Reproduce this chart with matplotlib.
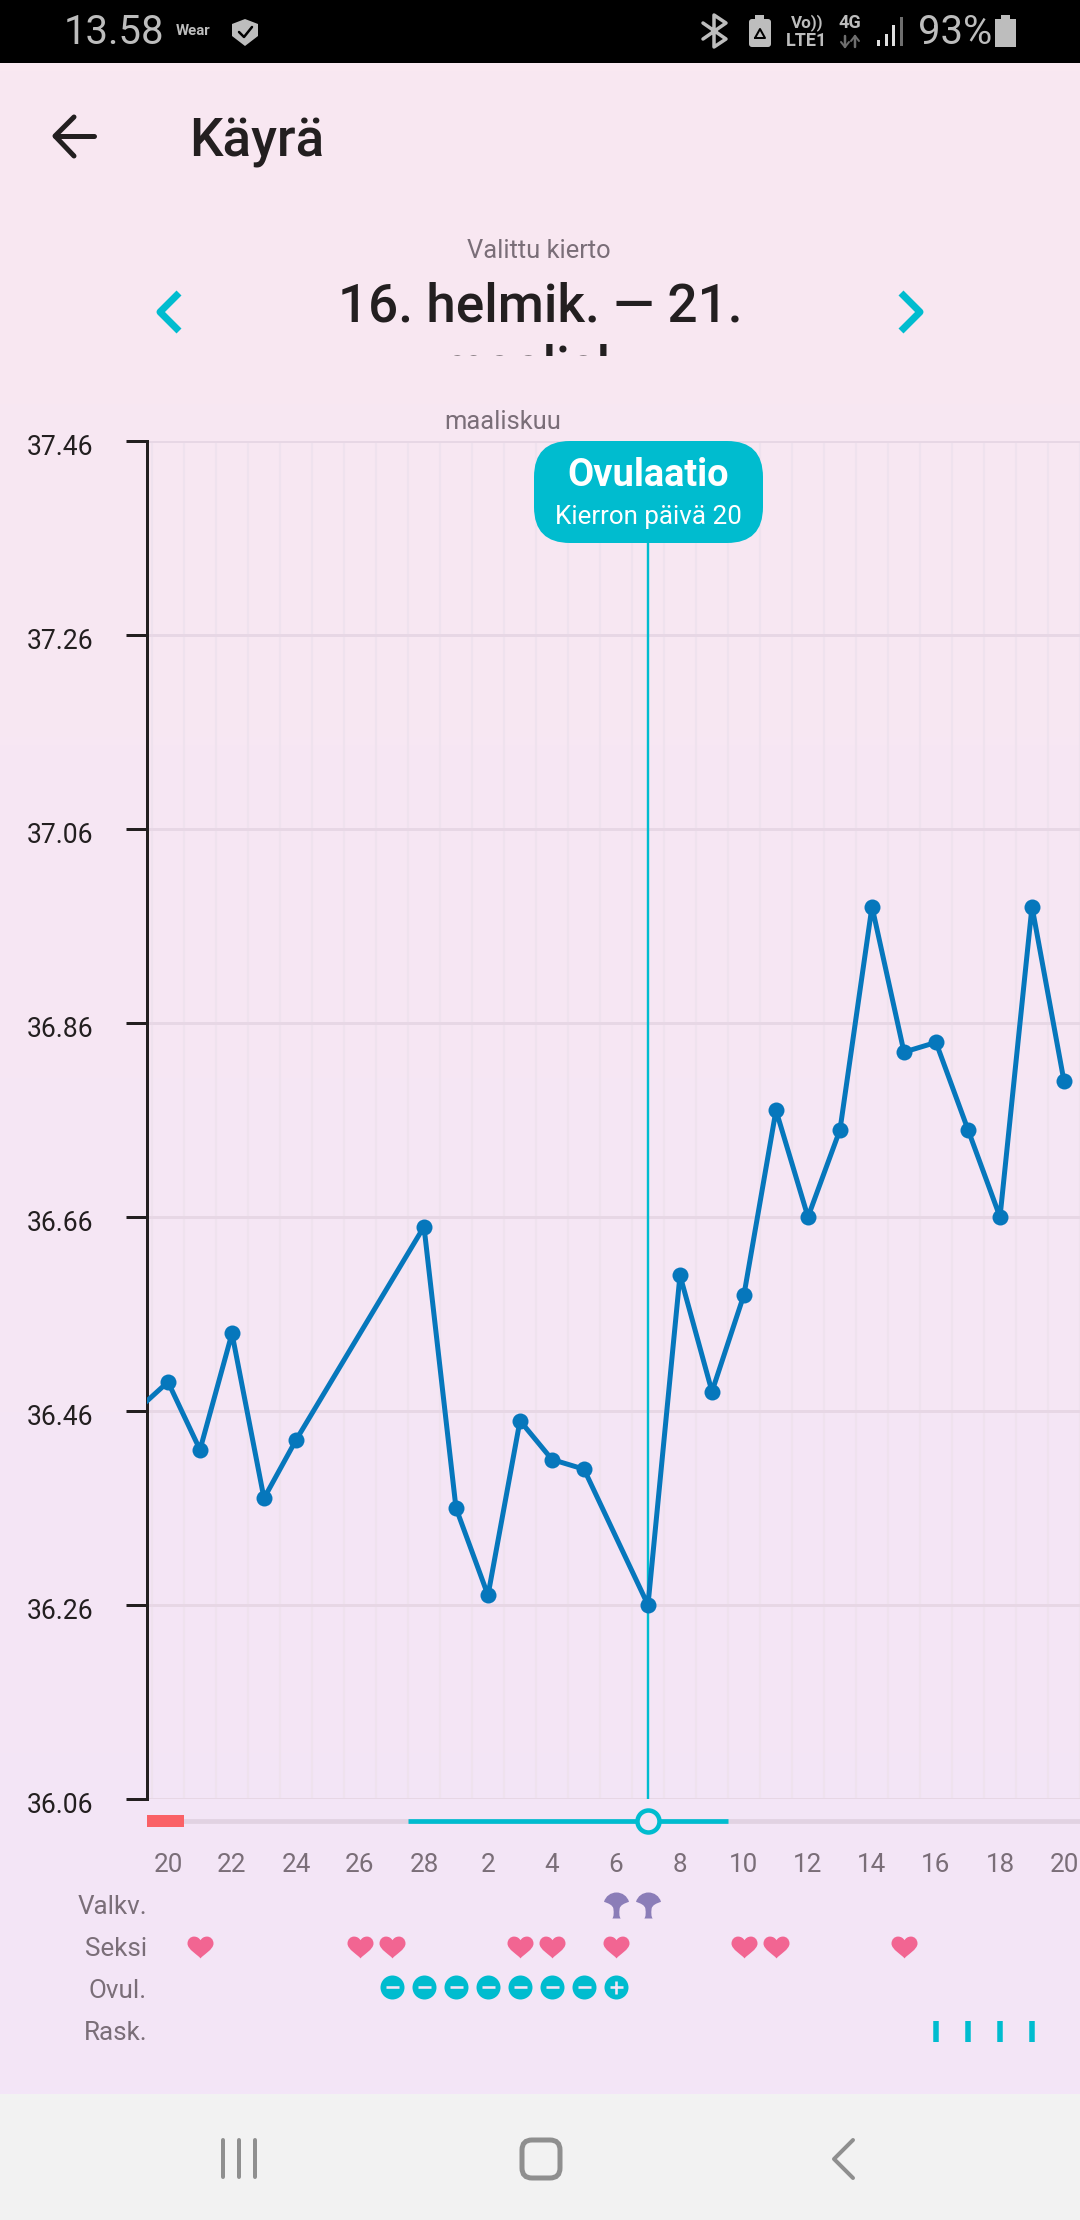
#!/usr/bin/env python

import numpy as np
import matplotlib
matplotlib.use('Agg')
import matplotlib.pyplot as plt
from matplotlib.colors import LinearSegmentedColormap
from matplotlib.patches import FancyBboxPatch, Rectangle, Polygon
from matplotlib.path import Path
from matplotlib.transforms import ScaledTranslation

plt.rcParams['font.family'] = ['Roboto', 'DejaVu Sans']

# day index 0 is the first "20" tick; index -1 is cut by the y axis
day_idx = [-1, 0, 1, 2, 3, 4, 8, 9, 10, 11, 12, 13, 15, 16, 17, 18, 19, 20, 21, 22, 23, 24, 25, 26, 27, 28]
temps = [36.46, 36.49, 36.42, 36.54, 36.37, 36.43, 36.65, 36.36, 36.27, 36.45, 36.41, 36.40, 36.26,
         36.60, 36.48, 36.58, 36.77, 36.66, 36.75, 36.98, 36.83, 36.84, 36.75, 36.66, 36.98, 36.80]
y_ticks = [36.06, 36.26, 36.46, 36.66, 36.86, 37.06, 37.26, 37.46]
x_tick_idx = [0, 2, 4, 6, 8, 10, 12, 14, 16, 18, 20, 22, 24, 26, 28]
x_tick_labels = ['20', '22', '24', '26', '28', '2', '4', '6', '8', '10', '12', '14', '16', '18', '20']

rows = ['Valkv.', 'Seksi', 'Ovul.', 'Rask.']
mucus_days = [14, 15]
sex_days = [1, 6, 7, 11, 12, 14, 18, 19, 23]
ovul_neg_days = [7, 8, 9, 10, 11, 12, 13]
ovul_pos_days = [14]
preg_days = [24, 25, 26, 27]

period_span = (-0.66, 0.5)
fertile_span = (7.5, 17.5)
ovulation_day = 15

W, H = 1080, 2220
INK = '#231F20'
GREY = '#7A6E78'
TEAL = '#00BCCF'
BLUE = '#0677BC'
NAV = '#8F8F8F'
STATUS = '#BDBDBD'


def px(v):
    # pixels to points
    return v * 0.72


def axes_px(left, top, right, bottom, **kw):
    return fig.add_axes([left / W, 1 - bottom / H, (right - left) / W, (bottom - top) / H], **kw)


fig = plt.figure(figsize=(W / 100, H / 100), dpi=100)

# page layer in pixel coordinates
bg = axes_px(0, 0, W, H)
bg.axis('off')
cmap = LinearSegmentedColormap.from_list('page', ['#F9E8F1', '#F3E5F7'])
bg.imshow(np.linspace(0, 1, 256).reshape(-1, 1), cmap=cmap, extent=(0, W, 2094, 63), aspect='auto')
bg.add_patch(Rectangle((0, 0), W, 63, color='black', lw=0))
bg.add_patch(Rectangle((0, 2094), W, H - 2094, color='#F2F2F2', lw=0))
bg.set_xlim(0, W)
bg.set_ylim(H, 0)


def txt(x, y, s, size, color=GREY, ha='center', va='center', weight='normal', **kw):
    return bg.text(x, y, s, fontsize=px(size), color=color, ha=ha, va=va, fontweight=weight, **kw)


def poly(xs, ys, color, lw, cap='round'):
    bg.plot(xs, ys, color=color, lw=px(lw), solid_capstyle=cap, solid_joinstyle='round')


# status bar
txt(64, 33, '13.58', 40, STATUS, ha='left')
txt(176, 31, 'Wear', 15, STATUS, ha='left', weight='bold')
bg.add_patch(Polygon([(232, 24), (245, 19), (258, 24), (258, 36), (245, 46), (232, 36)], color=STATUS, lw=0))
poly([239, 244, 252], [32, 37, 27], 'black', 2.5)
poly([703, 726, 714, 714, 726, 703], [23, 39, 47, 15, 23, 39], STATUS, 3.5)
bg.add_patch(FancyBboxPatch((749, 19), 22, 28, boxstyle='round,pad=0,rounding_size=3', color=STATUS, lw=0))
bg.add_patch(Rectangle((755, 15), 9, 5, color=STATUS, lw=0))
poly([755, 760, 765, 755], [38, 29, 38, 38], 'black', 2)
txt(807, 23, 'Vo))', 17, STATUS, weight='bold')
txt(807, 41, 'LTE1', 18, STATUS, weight='bold')
txt(850, 23, '4G', 18, STATUS, weight='bold')
poly([845, 845], [36, 47], '#6E6E6E', 2.5)
poly([841, 845, 849], [42, 47, 42], '#6E6E6E', 2)
poly([855, 855], [36, 47], '#6E6E6E', 2.5)
poly([851, 855, 859], [41, 36, 41], '#6E6E6E', 2)
for i, top_y in enumerate([40, 34, 25, 17]):
    bg.add_patch(Rectangle((877 + i * 7.5, top_y), 3, 46 - top_y, color='#E0E0E0' if i < 3 else '#6E6E6E', lw=0))
txt(918, 33, '93%', 40, STATUS, ha='left')
bg.add_patch(Rectangle((995, 19), 21, 28, color=STATUS, lw=0))
bg.add_patch(Rectangle((1001, 15), 9, 4, color=STATUS, lw=0))

# header
poly([55, 94], [136, 136], INK, 5)
poly([74, 55, 74], [117, 136, 156], INK, 5)
txt(189, 157, 'Käyrä', 53, INK, ha='left', va='baseline', weight='medium')
txt(539, 251, 'Valittu kierto', 25.5)
txt(540, 322, '16. helmik. — 21.', 53, INK, va='baseline', weight='medium')
cut = txt(540, 383, 'maalisk.', 53, INK, va='baseline', weight='medium')
cut.set_clip_path(Rectangle((0, 63), W, 293, transform=bg.transData))
cut.set_clip_on(True)
poly([179, 160, 179], [293, 312, 331], TEAL, 7, cap='butt')
poly([901, 920, 901], [293, 312, 331], TEAL, 7, cap='butt')
txt(503, 422, 'maaliskuu', 25.5)

# nav bar
for x in [223, 239, 255]:
    poly([x, x], [2140, 2177], NAV, 4)
bg.add_patch(FancyBboxPatch((522, 2140), 38, 38, boxstyle='round,pad=0,rounding_size=10', fc='none', ec=NAV, lw=px(5)))
poly([853, 834, 853], [2140, 2159, 2178], NAV, 4)

# temperature chart
ax = axes_px(147, 441, W, 1799)
ax.patch.set_alpha(0)
ax.set_xlim(-0.656, 28.5)
ax.set_ylim(36.06, 37.46)
ax.set_xticks(np.arange(-0.5, 28.6, 1), minor=True)
ax.grid(which='minor', axis='x', color='#EFE2EE', lw=px(2.2))
ax.set_yticks(y_ticks)
ax.set_yticklabels(['%.2f' % v for v in y_ticks])
ax.grid(which='major', axis='y', color='#E7D7E5', lw=px(3))
ax.set_axisbelow(True)
ax.set_xticks(x_tick_idx)
ax.set_xticklabels(x_tick_labels)
ax.tick_params(axis='x', which='both', length=0, pad=px(54), labelsize=px(26), labelcolor=GREY)
ax.tick_params(axis='y', length=px(21), width=px(3), color=INK, pad=px(33), labelsize=px(26.5), labelcolor=INK)
for label in ax.get_yticklabels():
    label.set_transform(label.get_transform() + ScaledTranslation(0, -px(3.5) / 72, fig.dpi_scale_trans))
for name in ['top', 'right', 'bottom']:
    ax.spines[name].set_visible(False)
ax.spines['left'].set_color(INK)
ax.spines['left'].set_linewidth(px(3))
ax.axvline(ovulation_day, color=TEAL, lw=px(2.4), zorder=2)
ax.plot(day_idx, temps, color=BLUE, lw=px(5), marker='o', ms=px(16), mew=0, zorder=3)

# cycle phase strip
bar = axes_px(147, 1815, W, 1827, sharex=ax)
bar.axis('off')
bar.set_ylim(0, 1)
bar.hlines(0.5, -0.66, 28.5, color='#E1D2E2', lw=px(4.7), zorder=1)
bar.hlines(0.5, fertile_span[0], fertile_span[1], color=TEAL, lw=px(4.7), zorder=2)
bar.axvspan(period_span[0], period_span[1], color='#FA6166', lw=0, zorder=3)
bar.plot([ovulation_day], [0.5], 'o', ms=px(22), mfc='#F4E5F6', mec=TEAL, mew=px(4.5), zorder=4, clip_on=False)

# symptom rows
heart = Path(
    [(0, -0.42), (-0.1, -0.28), (-0.5, -0.08), (-0.5, 0.15), (-0.5, 0.32), (-0.38, 0.42), (-0.25, 0.42),
     (-0.13, 0.42), (-0.05, 0.36), (0, 0.28), (0.05, 0.36), (0.13, 0.42), (0.25, 0.42),
     (0.38, 0.42), (0.5, 0.32), (0.5, 0.15), (0.5, -0.08), (0.1, -0.28), (0, -0.42)],
    [Path.MOVETO] + [Path.CURVE4] * 18)
funnel = Path(
    [(-0.16, -0.5), (-0.1, -0.42), (-0.1, -0.3), (-0.12, -0.12), (-0.15, 0.02), (-0.3, 0.08), (-0.48, 0.14),
     (-0.42, 0.36), (-0.22, 0.5), (0, 0.5), (0.22, 0.5), (0.42, 0.36), (0.48, 0.14),
     (0.3, 0.08), (0.15, 0.02), (0.12, -0.12), (0.1, -0.3), (0.1, -0.42), (0.16, -0.5), (-0.16, -0.5)],
    [Path.MOVETO] + [Path.CURVE4] * 18 + [Path.LINETO])

strip = axes_px(147, 1884, W, 2052, sharex=ax)
strip.patch.set_alpha(0)
strip.set_ylim(3.5, -0.5)
for name in strip.spines:
    strip.spines[name].set_visible(False)
strip.set_yticks(range(len(rows)))
strip.set_yticklabels(rows)
strip.tick_params(axis='y', length=0, pad=0, labelsize=px(26), labelcolor=GREY)
strip.tick_params(axis='x', which='both', length=0, labelbottom=False)
strip.plot(mucus_days, [0] * len(mucus_days), ls='none', marker=funnel, ms=px(26), mfc='#8B7DB8', mew=0)
strip.plot(sex_days, [1] * len(sex_days), ls='none', marker=heart, ms=px(26), mfc='#F26592', mew=0)
ovul_days = ovul_neg_days + ovul_pos_days
strip.plot(ovul_days, [1.96] * len(ovul_days), ls='none', marker='o', ms=px(24), mfc=TEAL, mew=0)
strip.plot(ovul_neg_days, [1.96] * len(ovul_neg_days), ls='none', marker='_', ms=px(13), mec='#F4E5F6', mew=px(2.6))
strip.plot(ovul_pos_days, [1.96] * len(ovul_pos_days), ls='none', marker='+', ms=px(13), mec='#F4E5F6', mew=px(2.6))
strip.plot(preg_days, [3] * len(preg_days), ls='none', marker='|', ms=px(21), mec=TEAL, mew=px(5.5))

# ovulation bubble on top of the chart
top = axes_px(0, 0, W, H)
top.axis('off')
top.set_xlim(0, W)
top.set_ylim(H, 0)
top.add_patch(FancyBboxPatch((534, 441), 229, 102, boxstyle='round,pad=0,rounding_size=36', fc=TEAL, ec='none'))
top.text(648, 475, 'Ovulaatio', fontsize=px(38), color='white', fontweight='bold', ha='center', va='center')
top.text(648, 517, 'Kierron päivä 20', fontsize=px(26), color='white', ha='center', va='center')

fig.savefig('out.png', dpi=100)
